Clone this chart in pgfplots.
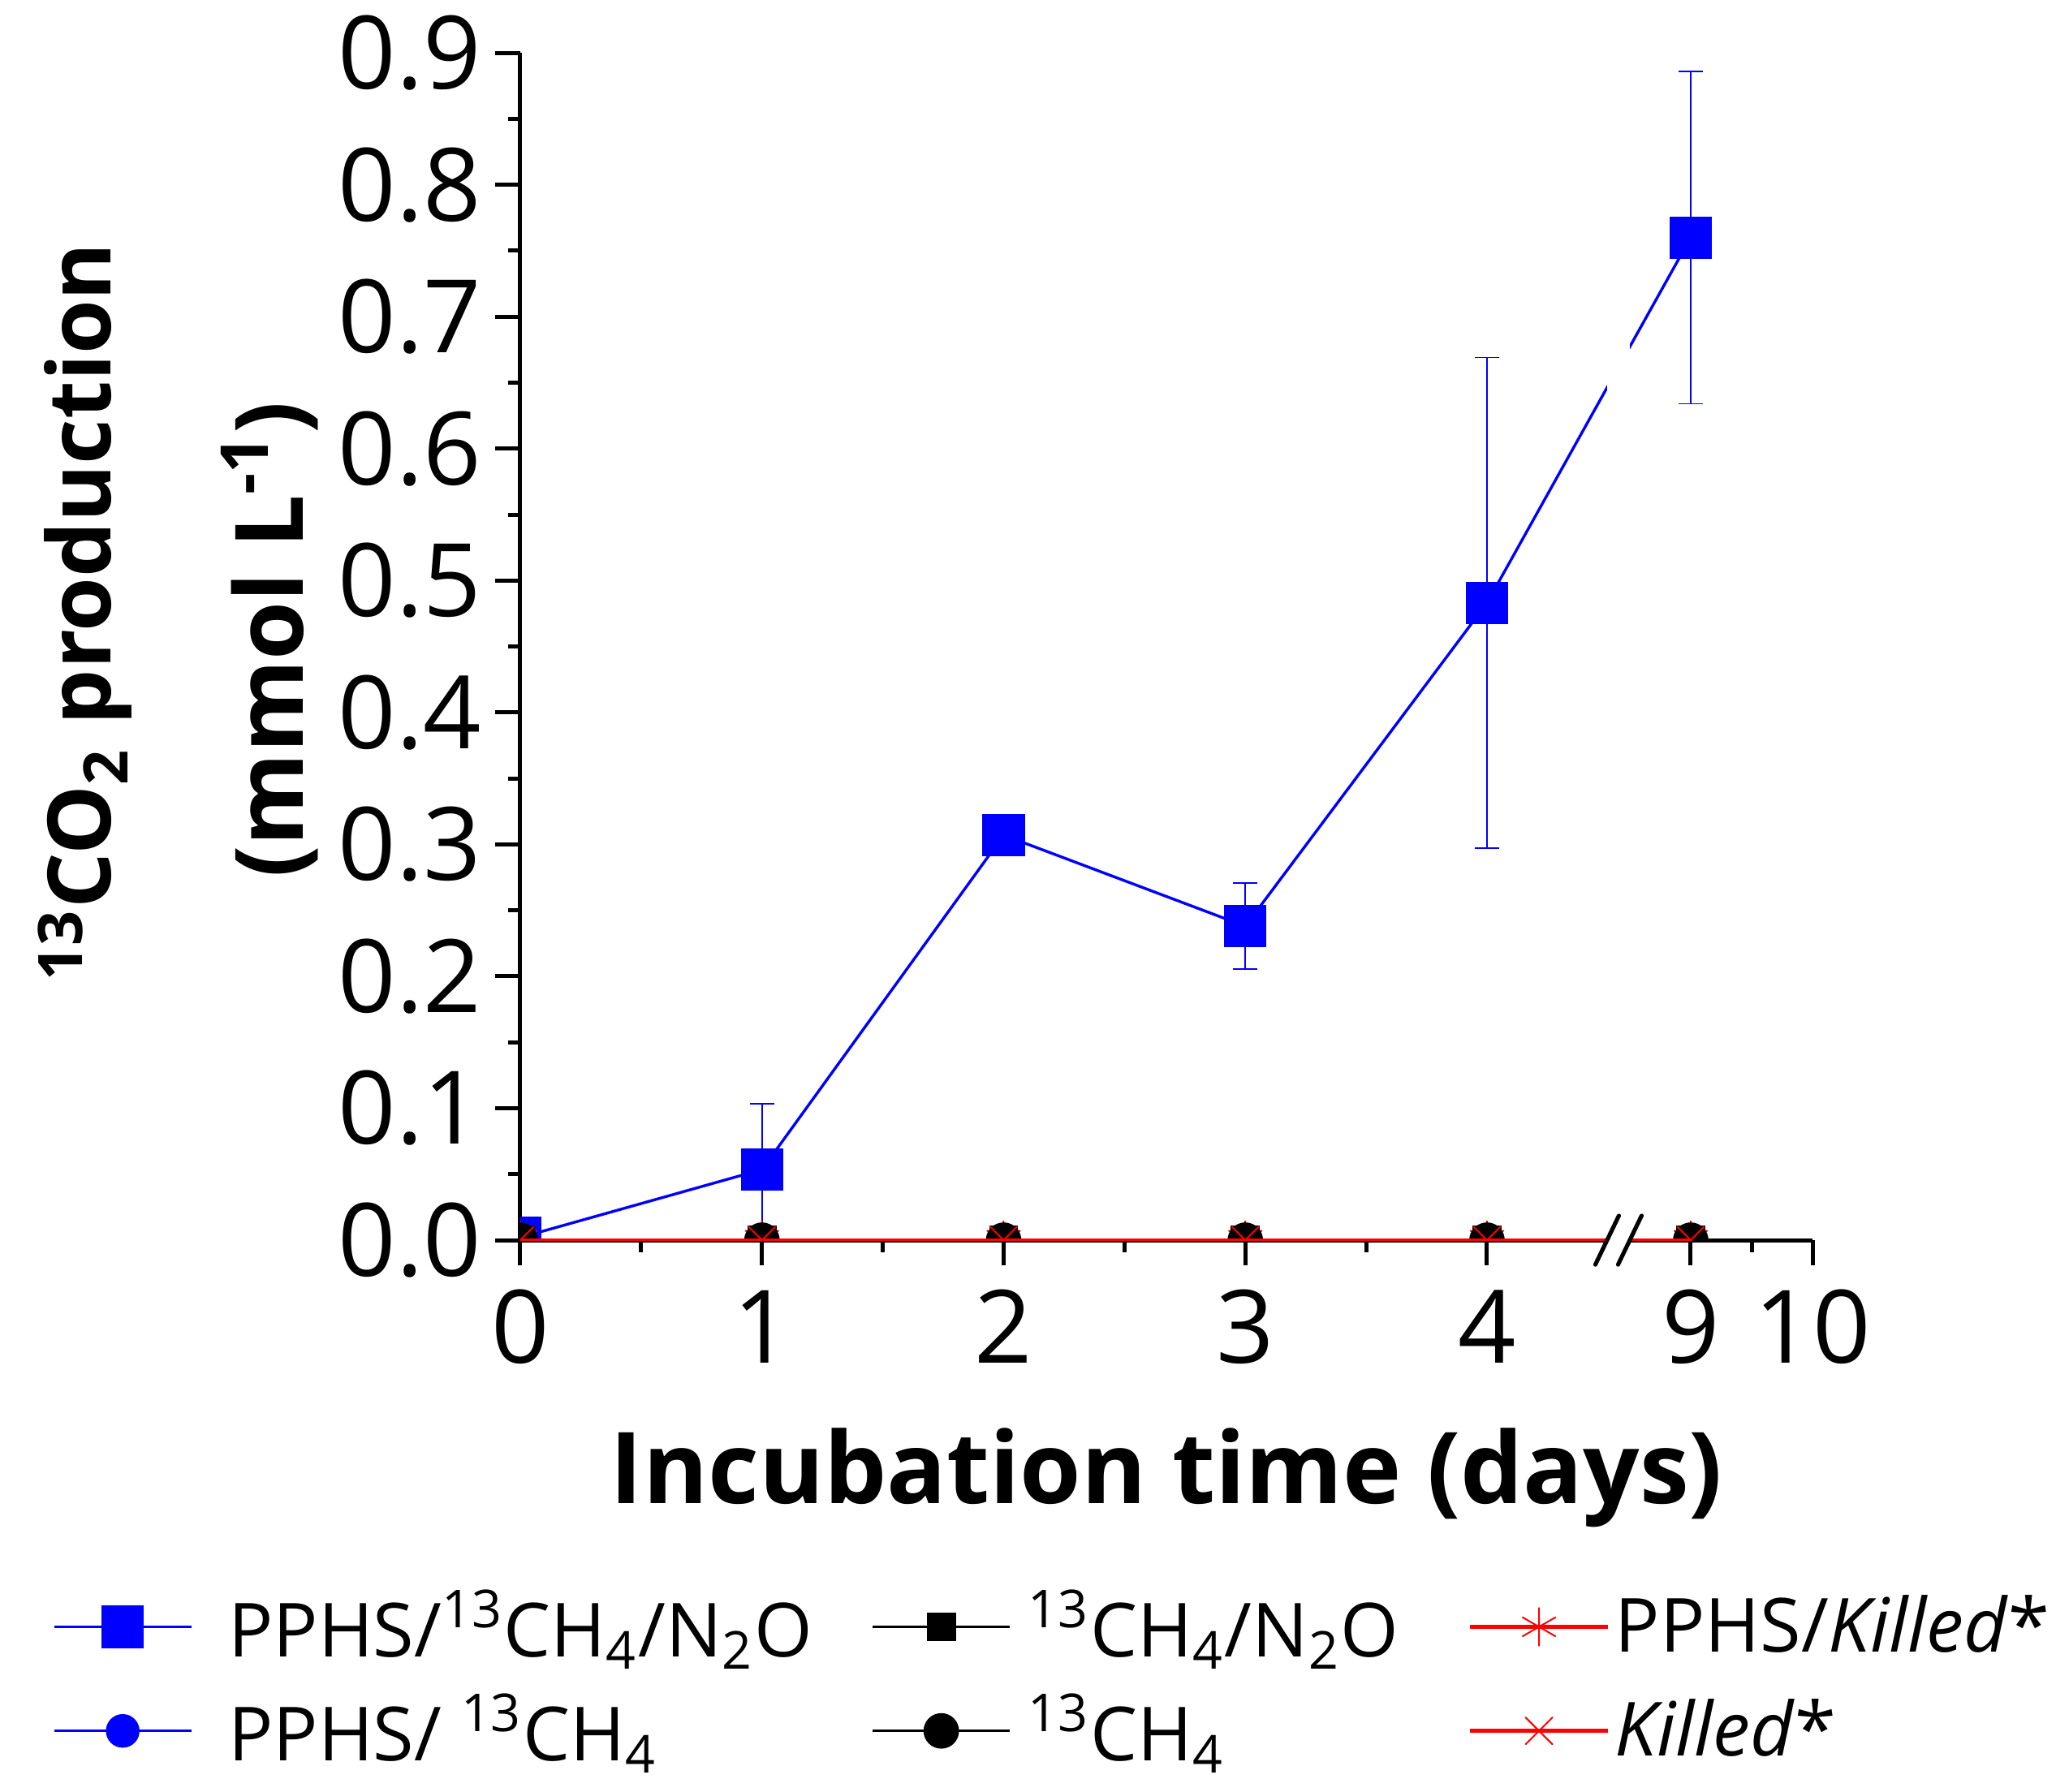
\documentclass[border=0pt]{standalone}
\usepackage{pgfplots}
\pgfplotsset{compat=1.18}
\usepackage{pgfplotstable}
\usepackage{fontspec}
\setmainfont{Open Sans}

\pgfplotstableread{
x y e
0 0.002 0
1 0.0535 0.05
2 0.307 0
3 0.238 0.0326
4 0.483 0.186
4.843 0.760 0.126
}\tblA

\pgfplotstableread{
x bsq rast bcirc kcirc rx
0 0 0 0 0 0
1 0 0 0 0 0
2 0 0 0 0 0
3 0 0 0 0 0
4 0 0 0 0 0
4.843 0 0 0 0 0
}\tblZ

\begin{document}
\begin{tikzpicture}
\path[use as bounding box] (0,0) rectangle (445.95pt,388.56pt);
\begin{axis}[
  at={(112.85pt,119.54pt)}, anchor=south west,
  scale only axis, width=280.28pt, height=257.57pt,
  xmin=0, xmax=5.347, ymin=0, ymax=0.9,
  axis lines=left, axis line style={-, line width=0.88pt},
  xtick={0,1,2,3,4,4.843,5.347}, xticklabels={0,1,2,3,4,9,10},
  minor xtick={0.5,1.5,2.5,3.5,5.095},
  ytick={0,0.1,0.2,0.3,0.4,0.5,0.6,0.7,0.8,0.9},
  minor ytick={0.05,0.15,0.25,0.35,0.45,0.55,0.65,0.75,0.85},
  tick align=outside, major tick length=5.46pt, minor tick length=2.6pt,
  tick style={black, line width=0.88pt},
  ticklabel style={font=\fontsize{22}{26}\selectfont},
  /pgf/number format/assume math mode=true,
  yticklabel style={/pgf/number format/fixed, /pgf/number format/fixed zerofill, /pgf/number format/precision=1,
    anchor=east, inner sep=0pt, xshift=-2.8pt},
  xticklabel style={anchor=base, yshift=-21.2pt},
  xlabel={Incubation time (days)},
  xlabel style={at={(axis description cs:0.5,-0.2221)}, anchor=base, inner sep=0pt,
    font=\bfseries\fontsize{21.5}{26}\selectfont},
  ylabel={{\fontsize{19}{41.7}\selectfont\hspace*{15pt}\textsuperscript{13}CO\textsubscript{2} production}\\\hspace*{3pt}(mmol L\textsuperscript{-1})},
  ylabel style={at={(axis description cs:-0.1556,0.5)}, anchor=south, inner sep=0pt,
    align=center, font=\bfseries\fontsize{20.5}{41.7}\selectfont},
  clip marker paths=true,
  legend columns=3,
  legend cell align=left,
  legend image code/.code={\draw[mark repeat=2,mark phase=2,#1] plot coordinates {(0pt,0pt) (14.9pt,0pt) (29.8pt,0pt)};},
  legend style={at={(axis description cs:-0.3619,-0.2946)}, anchor=north west,
    draw=none, fill=none, inner sep=0pt, outer sep=0pt, row sep=6.6pt,
    font=\fontsize{16.2}{19}\selectfont, nodes={inner sep=0pt},
    /tikz/every odd column/.append style={column sep=1.2pt},
    /tikz/every even column/.append style={column sep=0pt}},
]
\addplot[color=blue, line width=0.6pt, mark=square*, mark size=4.4pt, mark options={line width=0.4pt},
  error bars/.cd, y dir=both, y explicit,
  error bar style={line width=0.3pt, blue},
  error mark options={rotate=90, mark size=2.6pt, line width=0.3pt, blue}]
  table[x=x, y=y, y error=e] {\tblA};
\addlegendentry{\makebox[146pt][l]{\hspace*{6.5pt}PPHS/\textsuperscript{13}CH\textsubscript{4}/N\textsubscript{2}O}}
\addplot[color=black, line width=0.5pt, mark=square*, mark size=3pt, mark options={line width=0.3pt}]
  table[x=x, y=bsq] {\tblZ};
\addlegendentry{\makebox[98pt][l]{\hspace*{2.5pt}\textsuperscript{13}CH\textsubscript{4}/N\textsubscript{2}O}}
\addplot[color=red, line width=0.8pt, mark=asterisk, mark size=4.2pt, mark options={line width=0.35pt}]
  table[x=x, y=rast] {\tblZ};
\addlegendentry{PPHS/\textit{Killed}*}
\addplot[color=blue, line width=0.6pt, mark=*, mark size=3.5pt, mark options={line width=0.3pt}]
  table[x=x, y=bcirc] {\tblZ};
\addlegendentry{\makebox[146pt][l]{\hspace*{6.5pt}PPHS/ \textsuperscript{13}CH\textsubscript{4}}}
\addplot[color=black, line width=0.5pt, mark=*, mark size=3.7pt, mark options={line width=0.3pt}]
  table[x=x, y=kcirc] {\tblZ};
\addlegendentry{\makebox[98pt][l]{\hspace*{2.5pt}\textsuperscript{13}CH\textsubscript{4}}}
\addplot[color=red, line width=0.8pt, mark=x, mark size=4.2pt, mark options={line width=0.35pt}]
  table[x=x, y=rx] {\tblZ};
\addlegendentry{\textit{Killed}*}
\coordinate (b1) at (axis cs:4.497,0);
\coordinate (b2) at (axis cs:4.591,0);
\coordinate (g1) at (axis cs:4.497,0.3);
\coordinate (g2) at (axis cs:4.591,0.88);
\end{axis}
\fill[white] (g1) rectangle (g2);
\fill[white] ([xshift=-2.55pt,yshift=-5.3pt]b1) -- ([xshift=2.55pt,yshift=5.3pt]b1)
  -- ([xshift=2.55pt,yshift=5.3pt]b2) -- ([xshift=-2.55pt,yshift=-5.3pt]b2) -- cycle;
\draw[line width=0.9pt, line cap=round] ([xshift=-2.55pt,yshift=-5.3pt]b1) -- ([xshift=2.55pt,yshift=5.3pt]b1);
\draw[line width=0.9pt, line cap=round] ([xshift=-2.55pt,yshift=-5.3pt]b2) -- ([xshift=2.55pt,yshift=5.3pt]b2);
\end{tikzpicture}
\end{document}
